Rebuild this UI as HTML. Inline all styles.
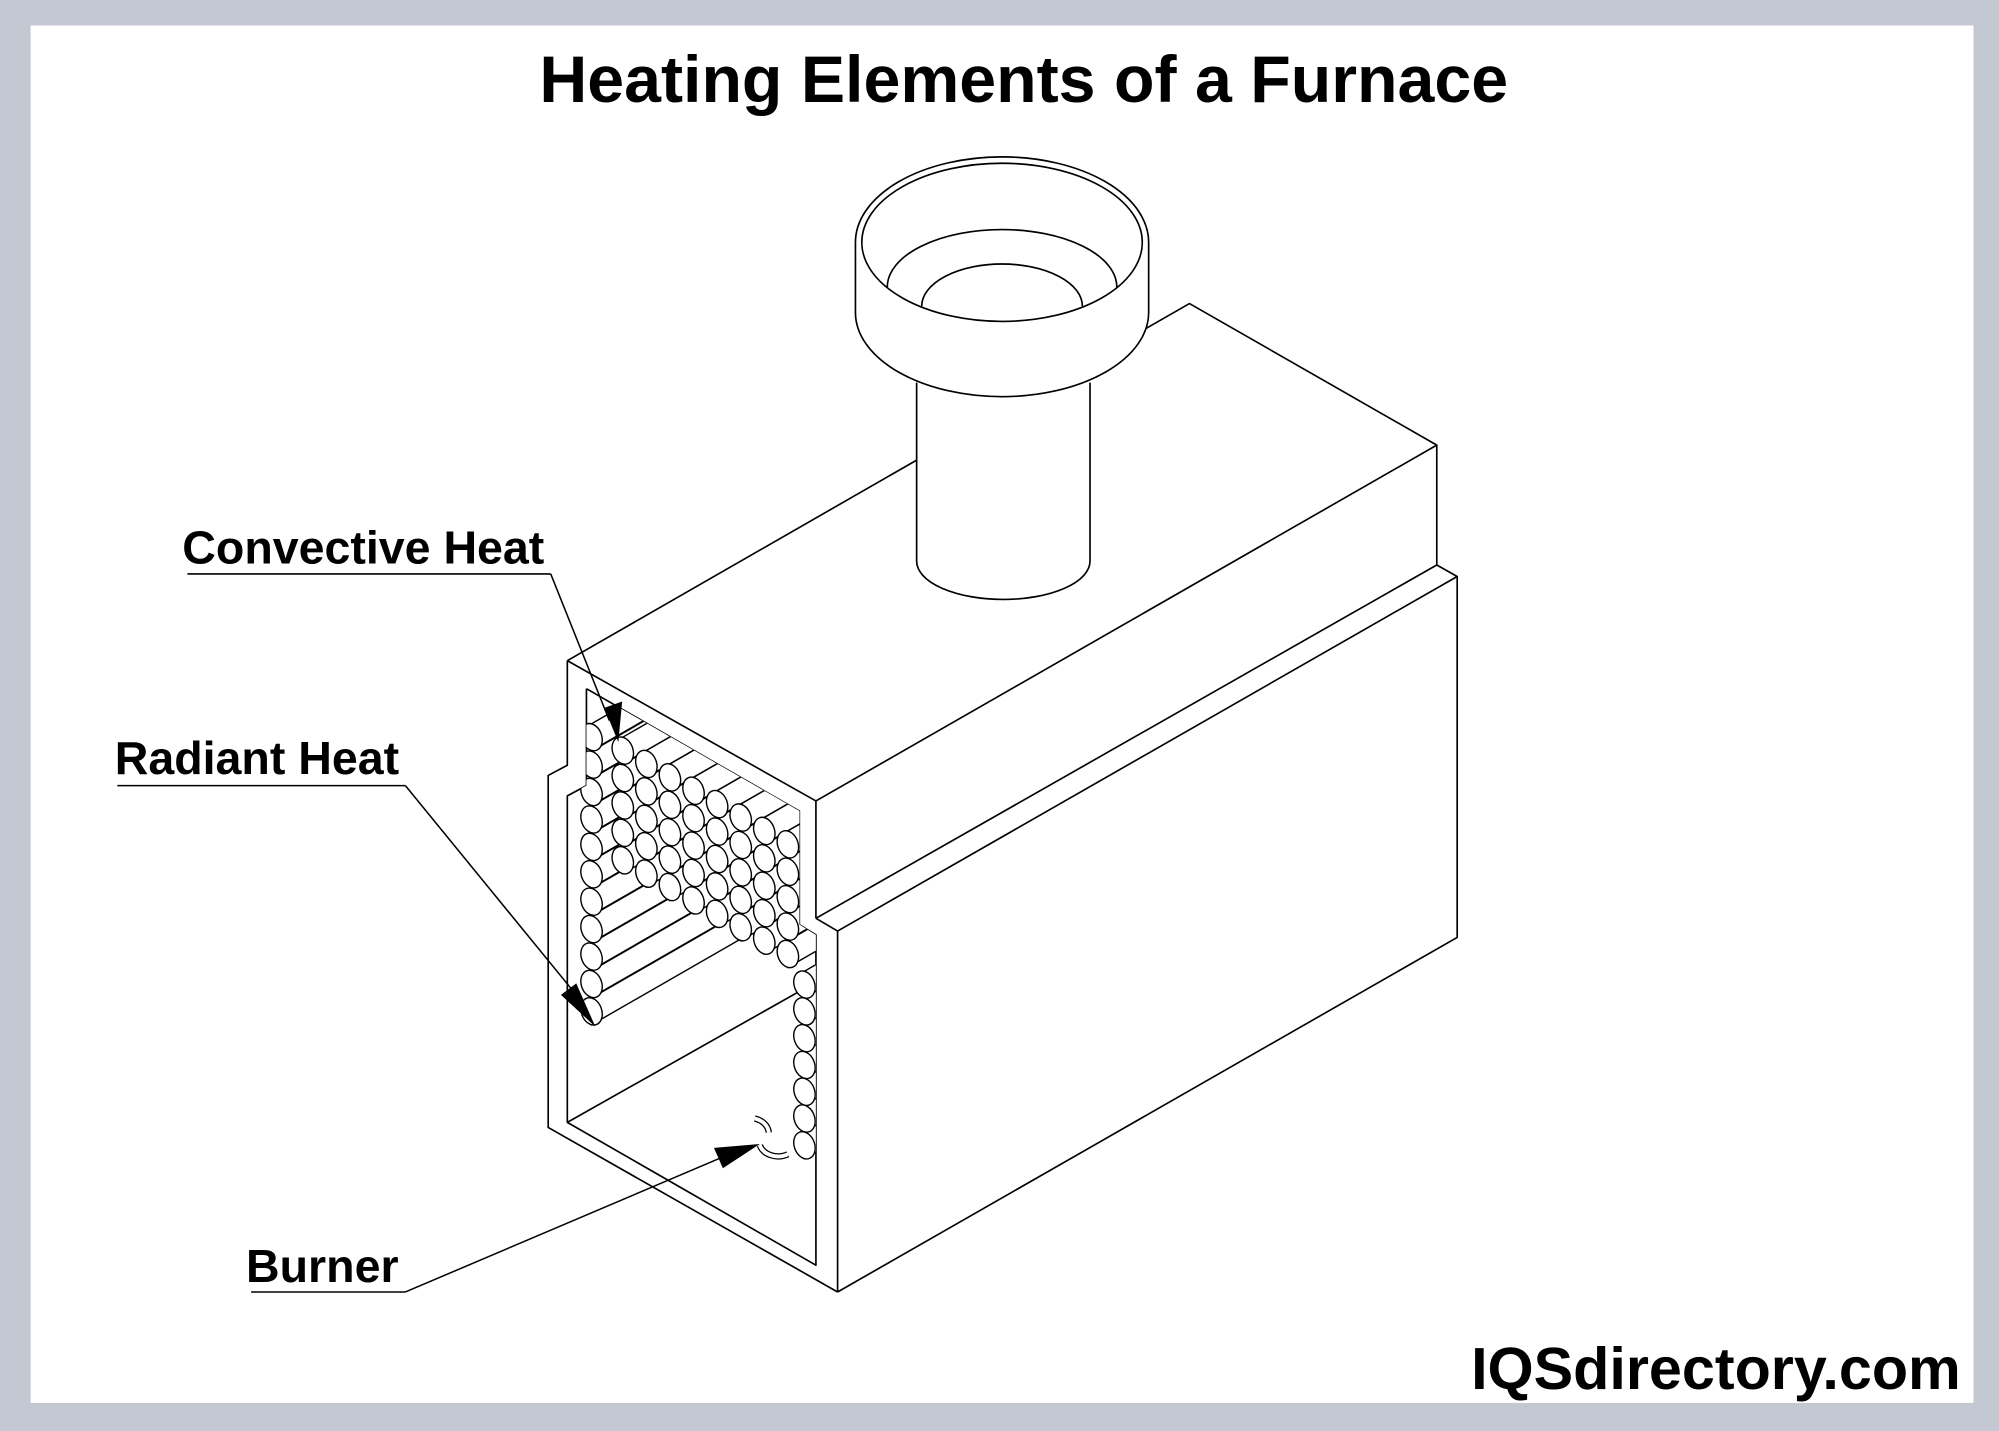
<!DOCTYPE html>
<html><head><meta charset="utf-8"><style>
html,body{margin:0;padding:0;background:#fff}
svg{display:block}
text{font-family:"Liberation Sans",Arial,sans-serif;font-weight:bold;fill:#000}
</style></head><body>
<svg id="s" width="1999" height="1431" viewBox="0 0 1568 1122" preserveAspectRatio="none" xmlns="http://www.w3.org/2000/svg">
<defs><clipPath id="cav"><polygon points="460,540 627,636 627,725 640,733 640,992 445,880 445,624 460,616"/></clipPath></defs>
<rect x="0" y="0" width="1568" height="1122" fill="#c3c8d2"/>
<rect x="24" y="20" width="1524" height="1080" fill="#fff"/>
<text x="803" y="80" font-size="52" text-anchor="middle">Heating Elements of a Furnace</text>
<text x="1538" y="1089" font-size="46.5" text-anchor="end">IQSdirectory.com</text>
<g fill="none" stroke="#000" stroke-width="1.3" stroke-linejoin="round">
<polyline points="445,518 933,238 1127,349 640,628 445,518"/>
<line x1="1127" y1="349" x2="1127" y2="443"/>
<line x1="640" y1="628" x2="640" y2="720"/>
<polyline points="640,720 1127,443 1143,452 1143,735 657,1013"/>
<polyline points="640,720 657,730 1143,452"/>
<line x1="657" y1="730" x2="657" y2="1013"/>
<polyline points="445,518 445,600 430,608 430,884 657,1013"/>
<polyline points="460,540 627,636 627,725 640,733 640,992 445,880 445,624 460,616 460,540"/>
<line x1="445" y1="880" x2="640" y2="770"/>
<path d="M719,290 L719,440 A68,30 0 0 0 855,440 L855,290 Z" fill="#fff" stroke="none"/>
<path d="M719,300 L719,440 A68,30 0 0 0 855,440 L855,300"/>
<path d="M671,190 A115,67 0 0 1 901,190 L901,245 A115,66 0 0 1 671,245 Z" fill="#fff"/>
<ellipse cx="786" cy="190" rx="110" ry="62"/>
<path d="M696,225 A90,45 0 0 1 876,225"/>
<path d="M723,240 A63,33 0 0 1 849,240"/>
</g>
<g clip-path="url(#cav)"><g id="bodies" fill="#fff" stroke="#000" stroke-width="1.1"></g><g id="ends" fill="#fff" stroke="#000" stroke-width="1.1"></g></g>
<g fill="none" stroke="#000" stroke-width="1.2">
<line x1="147" y1="450" x2="432" y2="450"/><line x1="432" y1="450" x2="478" y2="565"/>
<line x1="92" y1="616" x2="318" y2="616"/><line x1="318" y1="616" x2="452" y2="780"/>
<line x1="197" y1="1013" x2="318" y2="1013"/><line x1="318" y1="1013" x2="565" y2="908"/>
<path d="M603,888 A15,12 0 0 0 592,877 M596,898 A15,12 0 0 0 618,905" stroke-width="5" stroke="#000"/>
<path d="M603,888 A15,12 0 0 0 592,877 M596,898 A15,12 0 0 0 618,905" stroke-width="3" stroke="#fff"/>
</g>
<g fill="#000">
<polygon points="474,555 488,550 485,582"/>
<polygon points="440,780 452,771 467,805"/>
<polygon points="560,900 567,916 596,897"/>
</g>
<text x="143" y="442" font-size="36.5">Convective Heat</text>
<text x="90" y="607" font-size="36.5">Radiant Heat</text>
<text x="193" y="1005" font-size="36.5">Burner</text>
</svg>
<script>
var B=document.getElementById('bodies'),E=document.getElementById('ends'),ns='http://www.w3.org/2000/svg',out=[];
for(var i=0;i<10;i++){for(var j=0;j<12;j++){
 var x=470+18.5*i,y=578+10.5*i+21.5*j;
 if(i==0){x=464;if(y>805)continue;}
 else if(y>670+(x-475)*0.65)continue;
 if(x>622)continue;
 out.push([x,y]);}}
for(var j=0;j<7;j++)out.push([631,772+j*21]);
out.forEach(function(t){
 var x=t[0],y=t[1],L=260,dx=L*0.87,dy=-L*0.5;
 var p=document.createElementNS(ns,'path');
 p.setAttribute('d','M'+x+','+(y-10.5)+' L'+(x+dx)+','+(y-10.5+dy)+' L'+(x+dx)+','+(y+10.5+dy)+' L'+x+','+(y+10.5)+' Z');
 B.appendChild(p);
});
out.forEach(function(t){
 var e=document.createElementNS(ns,'ellipse');
 e.setAttribute('cx',t[0]);e.setAttribute('cy',t[1]);e.setAttribute('rx',8);e.setAttribute('ry',11);
 e.setAttribute('transform','rotate(-20 '+t[0]+' '+t[1]+')');E.appendChild(e);
});
</script>
</body></html>
